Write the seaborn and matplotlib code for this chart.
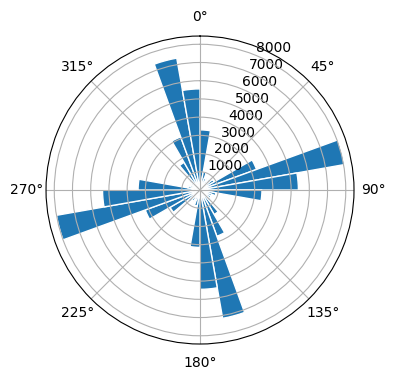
import numpy as np
import matplotlib
matplotlib.use("Agg")
import matplotlib.pyplot as plt
import seaborn as sns

# Direction bins (start of each 10-degree sector, degrees clockwise from north)
bin_starts_deg = list(range(0, 360, 10))
# Counts per sector
counts = [3300, 1000, 700, 600, 800, 900, 3300, 8050, 5400,
          3400, 900, 700, 700, 800, 1550, 2700, 7150, 5450,
          3150, 900, 600, 700, 900, 1900, 3200, 8000, 5350,
          3400, 700, 600, 600, 800, 1750, 3100, 7350, 5550]
bin_width_deg = 10

color = sns.color_palette()[0]

fig = plt.figure(figsize=(3.96, 3.8), dpi=100)
ax = fig.add_axes([0.1162, 0.0947, 0.7778, 0.8105], projection="polar")
ax.set_theta_zero_location("N")
ax.set_theta_direction(-1)
ax.bar(np.radians(bin_starts_deg), counts, width=np.radians(bin_width_deg),
       align="edge", color=color, edgecolor="white", linewidth=1)
ax.grid(True)
fig.savefig("out.png", dpi=100)
